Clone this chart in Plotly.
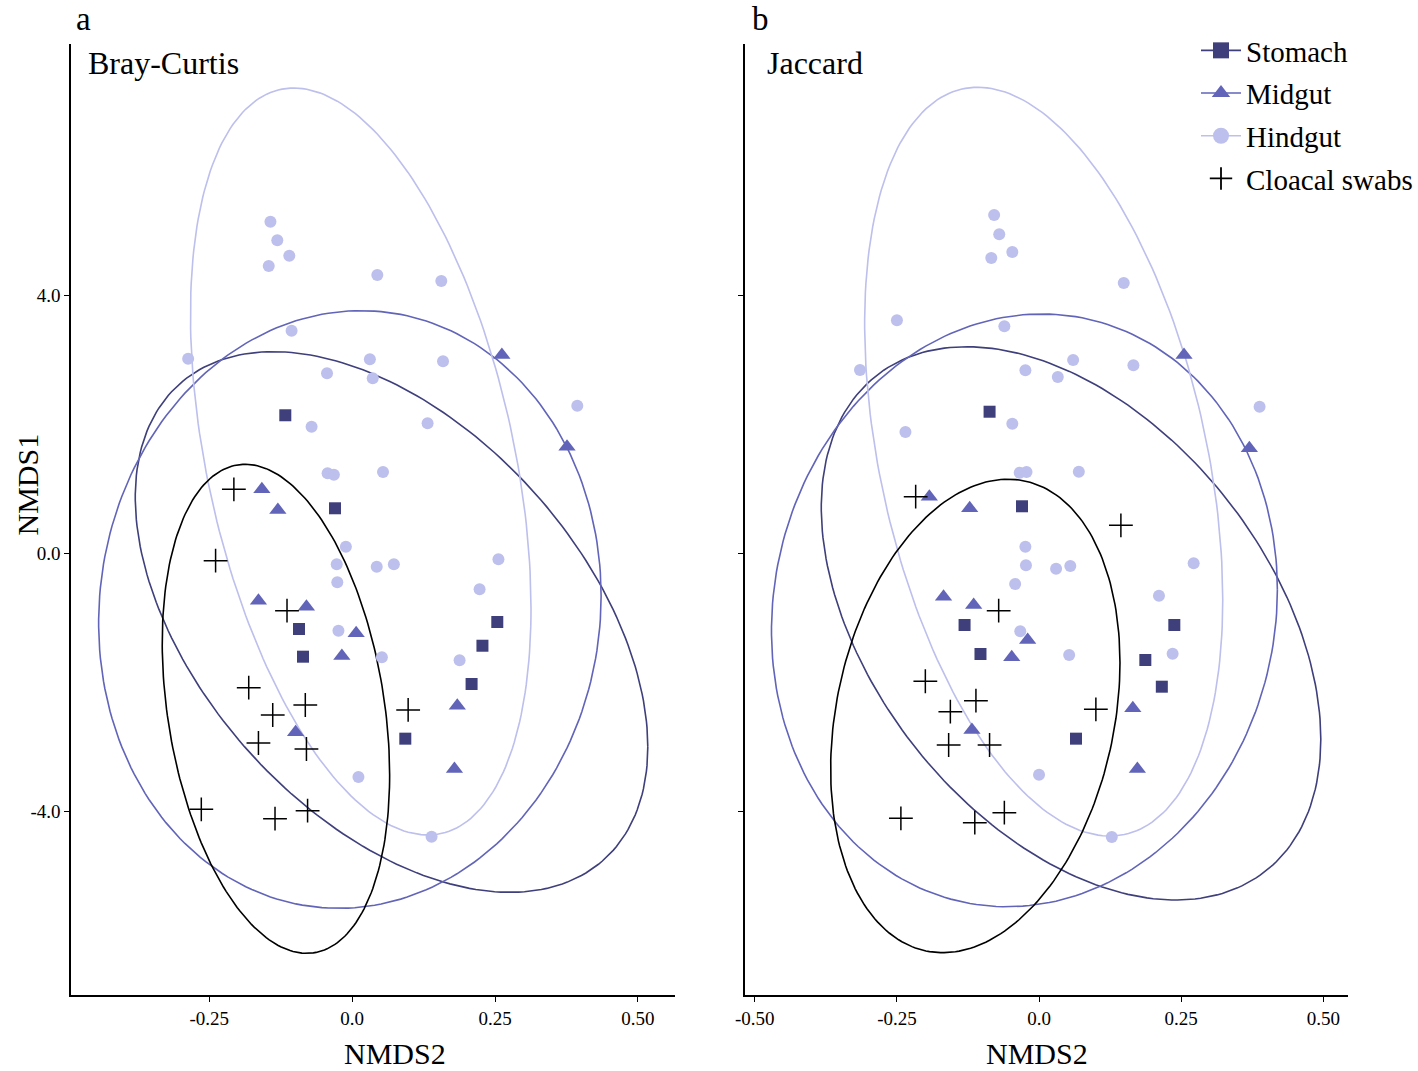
import numpy as np
import plotly.graph_objects as go

# ---------------- data ----------------
groups = ["Stomach", "Midgut", "Hindgut", "Cloacal swabs"]
colors = ["#3E3F7B", "#6164B8", "#BDBFEC", "#000000"]
symbols = ["square", "triangle-up", "circle", "cross-thin"]
sizes = [12, 15, 12, 17]

# Panel a (Bray-Curtis): x = NMDS2, y = NMDS1
a_stomach_x = [-0.117, -0.030, -0.093, -0.086, 0.254, 0.228, 0.209, 0.093]
a_stomach_y = [2.140, 0.698, -1.174, -1.603, -1.065, -1.433, -2.026, -2.874]
a_midgut_x = [0.262, 0.376, -0.158, -0.130, -0.164, -0.080, 0.007, -0.018, 0.184, -0.099, 0.179]
a_midgut_y = [3.074, 1.653, 0.992, 0.671, -0.735, -0.828, -1.240, -1.592, -2.363, -2.775, -3.344]
a_hindgut_x = [-0.143, -0.131, -0.110, -0.146, 0.044, 0.156, -0.106, -0.287, 0.031, 0.159,
               -0.044, 0.036, 0.394, -0.071, 0.132, -0.043, -0.032, 0.054, -0.011, -0.027,
               0.043, 0.073, 0.256, -0.026, 0.223, -0.024, 0.052, 0.188, 0.011, 0.139]
a_hindgut_y = [5.141, 4.853, 4.614, 4.454, 4.315, 4.222, 3.451, 3.017, 3.008, 2.977,
               2.791, 2.713, 2.288, 1.963, 2.016, 1.240, 1.219, 1.260, 0.102, -0.171,
               -0.208, -0.171, -0.093, -0.450, -0.558, -1.200, -1.612, -1.659, -3.468, -4.394]
a_cloacal_x = [-0.207, -0.239, -0.114, -0.181, -0.082, -0.139, 0.098, -0.164, -0.080, -0.264, -0.135, -0.078]
a_cloacal_y = [0.992, -0.115, -0.890, -2.084, -2.352, -2.507, -2.429, -2.941, -3.034, -3.969, -4.115, -3.991]

# Panel b (Jaccard)
b_stomach_x = [-0.087, -0.030, -0.131, -0.103, 0.238, 0.187, 0.216, 0.065]
b_stomach_y = [2.195, 0.729, -1.112, -1.561, -1.112, -1.654, -2.068, -2.874]
b_midgut_x = [0.255, 0.370, -0.193, -0.122, -0.168, -0.115, -0.020, -0.048, 0.165, -0.118, 0.173]
b_midgut_y = [3.074, 1.628, 0.878, 0.698, -0.673, -0.802, -1.344, -1.612, -2.403, -2.740, -3.344]
b_hindgut_x = [-0.079, -0.070, -0.047, -0.084, 0.149, -0.250, -0.061, -0.315, 0.060, 0.166,
               -0.024, 0.033, 0.388, -0.235, -0.047, -0.034, -0.022, 0.070, -0.024, -0.023,
               0.030, 0.055, 0.272, -0.042, 0.211, -0.033, 0.053, 0.235, 0.000, 0.128]
b_hindgut_y = [5.245, 4.946, 4.671, 4.578, 4.191, 3.612, 3.519, 2.842, 2.997, 2.915,
               2.837, 2.733, 2.273, 1.881, 2.009, 1.250, 1.260, 1.265, 0.102, -0.186,
               -0.239, -0.197, -0.155, -0.476, -0.657, -1.209, -1.577, -1.557, -3.433, -4.398]
b_cloacal_x = [-0.217, 0.144, -0.071, -0.200, -0.111, -0.156, 0.100, -0.159, -0.087, -0.243, -0.113, -0.061]
b_cloacal_y = [0.878, 0.434, -0.890, -1.984, -2.285, -2.456, -2.419, -2.972, -2.972, -4.109, -4.177, -4.022]

# Ellipse parameters (order: Stomach, Midgut, Hindgut, Cloacal swabs)
# centre, half-width (x), half-height (y), tilt coefficient
a_ell_cx = [0.0689, -0.004, 0.015, -0.1334]
a_ell_cy = [-1.065, -0.871, 1.423, -2.411]
a_ell_w = [0.4485, 0.4397, 0.298, 0.199]
a_ell_h = [4.191, 4.633, 5.79, 3.791]
a_ell_c = [-0.462, 0.045, -0.393, -0.271]

b_ell_cx = [0.0563, -0.0257, 0.0082, -0.1121]
b_ell_cy = [-1.086, -0.8845, 1.421, -2.522]
b_ell_w = [0.4394, 0.4450, 0.315, 0.2545]
b_ell_h = [4.289, 4.595, 5.804, 3.670]
b_ell_c = [-0.419, 0.069, -0.368, 0.225]

x_tickvals_a = [-0.25, 0.0, 0.25, 0.50]
x_ticktext_a = ["-0.25", "0.0", "0.25", "0.50"]
x_tickvals_b = [-0.50, -0.25, 0.0, 0.25, 0.50]
x_ticktext_b = ["-0.50", "-0.25", "0.0", "0.25", "0.50"]
y_tickvals = [4.0, 0.0, -4.0]
y_ticktext = ["4.0", "0.0", "-4.0"]

# ---------------- figure ----------------
W, H = 1418, 1071
FONT = "Liberation Serif, Times New Roman, serif"


def px(x):
    return x / W


def py(y):
    return 1 - y / H


def ellipse(cx, cy, w, h, c, n=240):
    t = np.linspace(0, 2 * np.pi, n)
    s = np.sqrt(1 - c * c)
    return cx + w * np.cos(t), cy + h * (np.cos(t) * c + np.sin(t) * s)


fig = go.Figure()

panels = [
    ("x", "y",
     [(a_stomach_x, a_stomach_y), (a_midgut_x, a_midgut_y), (a_hindgut_x, a_hindgut_y), (a_cloacal_x, a_cloacal_y)],
     (a_ell_cx, a_ell_cy, a_ell_w, a_ell_h, a_ell_c)),
    ("x2", "y2",
     [(b_stomach_x, b_stomach_y), (b_midgut_x, b_midgut_y), (b_hindgut_x, b_hindgut_y), (b_cloacal_x, b_cloacal_y)],
     (b_ell_cx, b_ell_cy, b_ell_w, b_ell_h, b_ell_c)),
]

for xa, ya, pts, ell in panels:
    cxs, cys, ws, hs, cs = ell
    for i in range(4):
        ex, ey = ellipse(cxs[i], cys[i], ws[i], hs[i], cs[i])
        fig.add_trace(go.Scatter(x=ex, y=ey, mode="lines", xaxis=xa, yaxis=ya,
                                 line=dict(color=colors[i], width=1.6),
                                 showlegend=False, hoverinfo="skip"))
    for i in range(4):
        xs, ys = pts[i]
        if symbols[i] == "cross-thin":
            mk = dict(symbol="cross-thin", size=sizes[i], line=dict(color=colors[i], width=1.5), color=colors[i])
        else:
            mk = dict(symbol=symbols[i], size=sizes[i], color=colors[i], line=dict(width=0))
        fig.add_trace(go.Scatter(x=xs, y=ys, mode="markers", xaxis=xa, yaxis=ya,
                                 marker=mk, showlegend=False, name=groups[i]))

# legend entries
for i in range(4):
    if symbols[i] == "cross-thin":
        mk = dict(symbol="cross-thin", size=28, line=dict(color=colors[i], width=1.8), color=colors[i])
        ln = dict(color=colors[i], width=0)
        mode = "markers"
    else:
        mk = dict(symbol=symbols[i], size=20, color=colors[i], line=dict(width=0))
        ln = dict(color=colors[i], width=1.6)
        mode = "lines+markers"
    fig.add_trace(go.Scatter(x=[None], y=[None], mode=mode, name=groups[i],
                             legendgroup=groups[i],
                             marker=mk, line=ln, showlegend=True))

y_range = [(553.3 - 995) / 64.5, (553.3 - 44) / 64.5]

axis_common = dict(showgrid=False, zeroline=False, showline=True, linecolor="black", linewidth=1.6,
                   ticks="outside", ticklen=5, tickwidth=1, tickcolor="black",
                   tickfont=dict(family=FONT, size=19, color="black"))

fig.update_layout(
    width=W, height=H,
    margin=dict(l=0, r=0, t=0, b=0),
    paper_bgcolor="white", plot_bgcolor="white",
    xaxis=dict(domain=[px(62), px(675)], range=[(62 - 347.3) / 580, (675 - 347.3) / 580], anchor="y",
               tickvals=x_tickvals_a, ticktext=x_ticktext_a, **axis_common),
    yaxis=dict(domain=[py(995), py(44)], range=y_range, anchor="x",
               tickvals=y_tickvals, ticktext=y_ticktext, **axis_common),
    xaxis2=dict(domain=[px(746), px(1358)], range=[(746 - 1044.5) / 577, (1358 - 1044.5) / 577], anchor="y2",
                tickvals=x_tickvals_b, ticktext=x_ticktext_b, **axis_common),
    yaxis2=dict(domain=[py(995), py(44)], range=y_range, anchor="x2",
                tickvals=y_tickvals, ticktext=y_ticktext, showticklabels=False, **axis_common),
    legend=dict(x=px(1204), y=py(25), xanchor="left", yanchor="top",
                font=dict(family=FONT, size=29, color="black"),
                bgcolor="rgba(0,0,0,0)", tracegroupgap=2, itemwidth=40),
    showlegend=True,
)

# panel letters at the very top
for txt, x0 in [("a", 66), ("b", 752)]:
    fig.add_annotation(text=txt, x=px(x0), y=1, xref="paper", yref="paper",
                       xanchor="left", yanchor="top", showarrow=False, borderpad=0,
                       font=dict(family=FONT, size=33, color="black"))

for txt, x0 in [("Bray-Curtis", 77), ("Jaccard", 766)]:
    fig.add_annotation(text=txt, x=px(x0), y=py(63), xref="paper", yref="paper",
                       xanchor="left", yanchor="middle", showarrow=False,
                       font=dict(family=FONT, size=32, color="black"))

for xc in [391, 1042]:
    fig.add_annotation(text="NMDS2", x=px(xc), y=0, xref="paper", yref="paper",
                       xanchor="center", yanchor="bottom", showarrow=False, borderpad=0,
                       font=dict(family=FONT, size=30, color="black"))
fig.add_annotation(text="NMDS1", x=0, y=py(485), xref="paper", yref="paper",
                   xanchor="left", yanchor="middle", showarrow=False, textangle=-90, borderpad=0,
                   font=dict(family=FONT, size=30, color="black"))

fig.write_html("out.html", config={"displayModeBar": False},
               post_script="document.body.style.margin='0px';document.body.style.overflow='hidden';")
